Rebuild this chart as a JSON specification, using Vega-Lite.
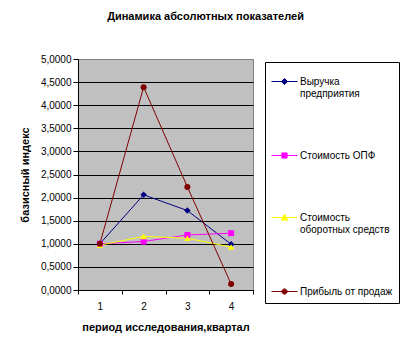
{
  "$schema": "https://vega.github.io/schema/vega-lite/v6.json",
  "autosize": {"type": "none"},
  "width": 175,
  "height": 231,
  "padding": {"left": 78, "top": 59, "right": 157, "bottom": 65},
  "background": "white",
  "title": {
    "text": "Динамика абсолютных показателей",
    "font": "Liberation Sans",
    "fontSize": 11,
    "fontWeight": "bold",
    "color": "black",
    "anchor": "middle",
    "frame": "group",
    "dx": 40,
    "offset": 32
  },
  "config": {
    "font": "Liberation Sans",
    "view": {"fill": "#c0c0c0", "stroke": "#808080", "strokeWidth": 1},
    "axis": {
      "labelFont": "Liberation Sans",
      "labelFontSize": 10,
      "labelColor": "black",
      "titleFont": "Liberation Sans",
      "titleFontSize": 11,
      "titleFontWeight": "bold",
      "titleColor": "black",
      "domainColor": "black",
      "tickColor": "black"
    }
  },
  "data": {
    "values": [
      {"series": "Выручка предприятия", "period": 1, "value": 1.0},
      {"series": "Выручка предприятия", "period": 2, "value": 2.06},
      {"series": "Выручка предприятия", "period": 3, "value": 1.72},
      {"series": "Выручка предприятия", "period": 4, "value": 0.99},
      {"series": "Стоимость ОПФ", "period": 1, "value": 1.0},
      {"series": "Стоимость ОПФ", "period": 2, "value": 1.05},
      {"series": "Стоимость ОПФ", "period": 3, "value": 1.19},
      {"series": "Стоимость ОПФ", "period": 4, "value": 1.23},
      {"series": "Стоимость оборотных средств", "period": 1, "value": 0.97},
      {"series": "Стоимость оборотных средств", "period": 2, "value": 1.16},
      {"series": "Стоимость оборотных средств", "period": 3, "value": 1.12},
      {"series": "Стоимость оборотных средств", "period": 4, "value": 0.93},
      {"series": "Прибыль от продаж", "period": 1, "value": 1.0},
      {"series": "Прибыль от продаж", "period": 2, "value": 4.39},
      {"series": "Прибыль от продаж", "period": 3, "value": 2.23},
      {"series": "Прибыль от продаж", "period": 4, "value": 0.13}
    ]
  },
  "encoding": {
    "x": {
      "field": "period",
      "type": "ordinal",
      "scale": {"type": "band", "paddingInner": 0, "paddingOuter": 0},
      "axis": {
        "title": "период исследования,квартал",
        "labelAngle": 0,
        "tickBand": "extent",
        "tickSize": 4,
        "labelPadding": 7,
        "titlePadding": 10,
        "grid": false
      }
    },
    "y": {
      "field": "value",
      "type": "quantitative",
      "scale": {"domain": [0, 5], "nice": false},
      "axis": {
        "title": "базисный индекс",
        "values": [0, 0.5, 1, 1.5, 2, 2.5, 3, 3.5, 4, 4.5, 5],
        "labelExpr": "replace(format(datum.value, '.4f'), '.', ',')",
        "tickSize": 5,
        "labelPadding": 2,
        "titlePadding": 10,
        "grid": true,
        "gridColor": {"condition": {"test": "datum.value === 5", "value": "#808080"}, "value": "black"},
        "gridWidth": 1
      }
    },
    "color": {
      "field": "series",
      "type": "nominal",
      "scale": {
        "domain": ["Выручка предприятия", "Стоимость ОПФ", "Стоимость оборотных средств", "Прибыль от продаж"],
        "range": ["#000080", "#ff00ff", "#ffff00", "#800000"]
      },
      "legend": {
        "title": null,
        "orient": "none",
        "legendX": 187,
        "legendY": 3,
        "direction": "vertical",
        "strokeColor": "black",
        "fillColor": "white",
        "padding": 6,
        "rowPadding": 43,
        "labelFont": "Liberation Sans",
        "labelFontSize": 10,
        "labelColor": "black",
        "labelLimit": 300,
        "labelOffset": 2,
        "labelExpr": "datum.label == 'Выручка предприятия' ? ['Выручка', 'предприятия'] : datum.label == 'Стоимость оборотных средств' ? ['Стоимость', 'оборотных средств'] : datum.label",
        "encode": {
          "symbols": {
            "update": {
              "shape": {"signal": "datum.value == 'Выручка предприятия' ? 'M-1,0H1M0,-0.23L0.23,0L0,0.23L-0.23,0Z' : datum.value == 'Стоимость ОПФ' ? 'M-1,0H1M-0.2,-0.2H0.2V0.2H-0.2Z' : datum.value == 'Стоимость оборотных средств' ? 'M-1,0H1M0,-0.25L0.25,0.2L-0.25,0.2Z' : 'M-1,0H1M0.2,0A0.2,0.2,0,1,1,-0.2,0A0.2,0.2,0,1,1,0.2,0Z'"},
              "size": {"value": 676},
              "fill": {"signal": "scale('color', datum.value)"},
              "stroke": {"signal": "scale('color', datum.value)"},
              "strokeWidth": {"value": 1},
              "opacity": {"value": 1}
            }
          }
        }
      }
    }
  },
  "layer": [
    {"mark": {"type": "line", "strokeWidth": 1}},
    {
      "transform": [{"filter": "datum.series == 'Выручка предприятия'"}],
      "mark": {"type": "point", "filled": true, "size": 42, "opacity": 1, "shape": "diamond"}
    },
    {
      "transform": [{"filter": "datum.series == 'Стоимость ОПФ'"}],
      "mark": {"type": "point", "filled": true, "size": 36, "opacity": 1, "shape": "square"}
    },
    {
      "transform": [{"filter": "datum.series == 'Стоимость оборотных средств'"}],
      "mark": {"type": "point", "filled": true, "size": 42, "opacity": 1, "shape": "triangle-up"}
    },
    {
      "transform": [{"filter": "datum.series == 'Прибыль от продаж'"}],
      "mark": {"type": "point", "filled": true, "size": 36, "opacity": 1, "shape": "circle"}
    }
  ]
}
